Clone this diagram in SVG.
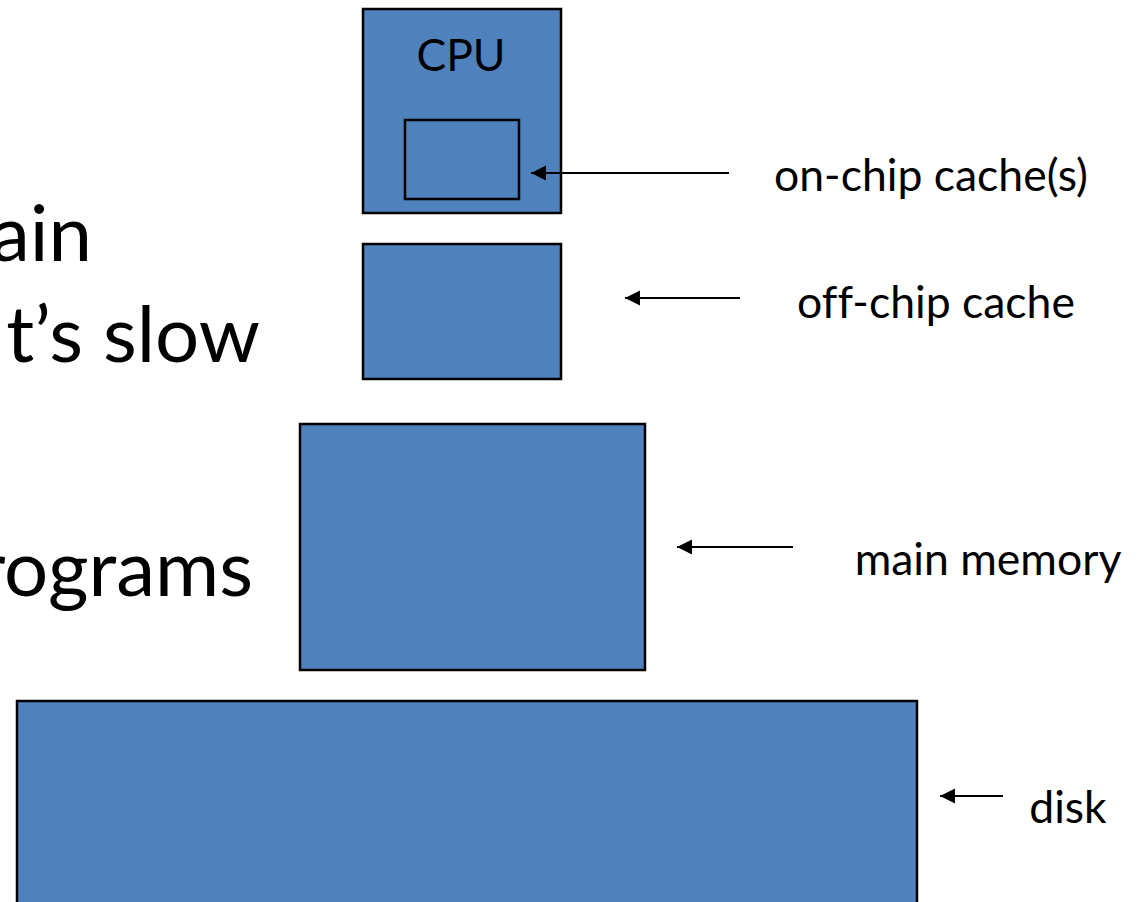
<svg xmlns="http://www.w3.org/2000/svg" width="1140" height="902" viewBox="0 0 1140 902">
  <style>
    .box { fill: #4F81BD; stroke: #000; stroke-width: 2.5; }
    .inner { fill: #4F81BD; stroke: #000; stroke-width: 2.5; }
    .lbl { font-family: Lato, "Open Sans", sans-serif; font-size: 44.5px; fill: #000; font-variant-ligatures: none; }
    .big { font-family: Lato, "Open Sans", sans-serif; font-size: 78px; fill: #000; font-variant-ligatures: none; }
    .conn { stroke: #000; stroke-width: 2; fill: none; }
  </style>
  <defs>
    <marker id="ah" markerUnits="userSpaceOnUse" markerWidth="16" markerHeight="16" refX="15" refY="7.5" orient="auto">
      <path d="M0,0 L15,7.5 L0,15 Z" fill="#000"/>
    </marker>
  </defs>
  <rect width="1140" height="902" fill="#fff"/>

  <g id="slide-text">
    <text class="big" x="92" y="261" text-anchor="end">ain</text>
    <text class="big" x="260" y="362" text-anchor="end">t’s slow</text>
    <text class="big" x="253" y="596" text-anchor="end">rograms</text>
  </g>

  <g id="cpu">
    <rect class="box" x="363" y="9" width="198" height="204"/>
    <text class="lbl" x="461" y="71" text-anchor="middle">CPU</text>
  </g>
  <g id="on-chip-cache">
    <rect class="inner" x="405" y="120" width="114" height="79"/>
  </g>
  <g id="off-chip-cache">
    <rect class="box" x="363" y="244" width="198" height="135"/>
  </g>
  <g id="main-memory">
    <rect class="box" x="300" y="424" width="345" height="246"/>
  </g>
  <g id="disk">
    <rect class="box" x="17" y="701" width="900" height="230"/>
  </g>

  <g id="labels">
    <text class="lbl" x="931" y="191" text-anchor="middle">on-chip cache(s)</text>
    <text class="lbl" x="936" y="318" text-anchor="middle">off-chip cache</text>
    <text class="lbl" x="988" y="575" text-anchor="middle">main memory</text>
    <text class="lbl" x="1068" y="823" text-anchor="middle">disk</text>
  </g>

  <g id="connectors">
    <line class="conn" x1="729" y1="173" x2="531" y2="173" marker-end="url(#ah)"/>
    <line class="conn" x1="740" y1="298" x2="625" y2="298" marker-end="url(#ah)"/>
    <line class="conn" x1="793" y1="547" x2="677" y2="547" marker-end="url(#ah)"/>
    <line class="conn" x1="1003" y1="796" x2="940" y2="796" marker-end="url(#ah)"/>
  </g>
</svg>
